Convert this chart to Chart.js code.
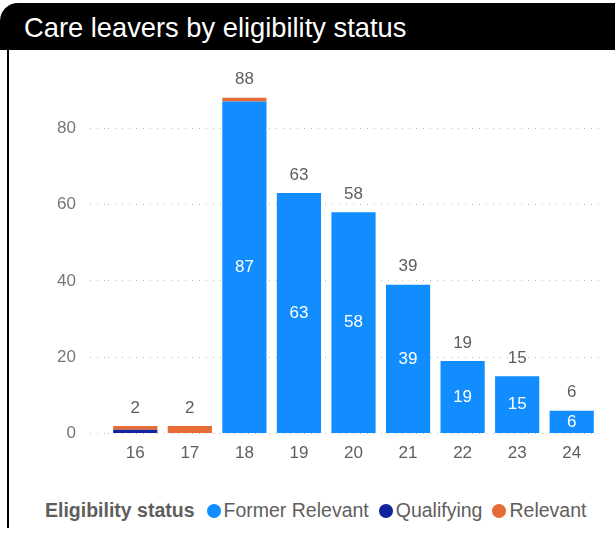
<!DOCTYPE html>
<html>
<head>
<meta charset="utf-8">
<script src="https://cdn.jsdelivr.net/npm/chart.js@4"></script>
<style>
  body { margin: 0; background: #fff; font-family: "Liberation Sans", Arial, sans-serif; }
  #wrap { position: relative; width: 615px; height: 541px; overflow: hidden; }
  #title { position: absolute; left: 0; top: 3px; width: 615px; height: 47px; background: #000;
           border-top-left-radius: 18px; color: #fff; font-size: 27.3px; line-height: 50px;
           padding-left: 24px; box-sizing: border-box; }
  #side { position: absolute; left: 7px; top: 50px; width: 2px; height: 478px; background: #000; }
  #box { position: absolute; left: 0; top: 50px; width: 615px; height: 441px; }
  #legend { position: absolute; left: 45px; top: 499px; display: flex; align-items: center;
            font-size: 19.5px; color: #605E5C; white-space: nowrap; }
  #legend b { margin-right: 12px; }
  .item { display: flex; align-items: center; margin-right: 10px; }
  .dot { width: 14px; height: 14px; border-radius: 50%; margin-right: 3px; }
</style>
</head>
<body>
<div id="wrap">
  <div id="title">Care leavers by eligibility status</div>
  <div id="side"></div>
  <div id="box"><canvas id="chart-1"></canvas></div>
  <div id="legend"><b>Eligibility status</b></div>
</div>
<script>
const ages = ['16', '17', '18', '19', '20', '21', '22', '23', '24'];
const formerRelevant = [0, 0, 87, 63, 58, 39, 19, 15, 6];
const qualifying = [1, 0, 0, 0, 0, 0, 0, 0, 0];
const relevant = [1, 2, 1, 0, 0, 0, 0, 0, 0];
const seriesNames = ['Former Relevant', 'Qualifying', 'Relevant'];
const seriesColors = ['#118DFF', '#12239E', '#E66C37'];
const yTicks = [0, 20, 40, 60, 80];

const totals = ages.map((a, i) => formerRelevant[i] + qualifying[i] + relevant[i]);

// legend as html
const legend = document.getElementById('legend');
seriesNames.forEach((name, i) => {
    const it = document.createElement('span');
    it.className = 'item';
    it.innerHTML = '<span class="dot" style="background:' + seriesColors[i] + '"></span>' + name;
    legend.appendChild(it);
});

const barLabels = {
    id: 'barLabels',
    afterDatasetsDraw(chart) {
        const ctx = chart.ctx;
        ctx.save();
        ctx.textAlign = 'center';
        ctx.textBaseline = 'middle';
        ctx.font = '17px "Liberation Sans", Arial, sans-serif';
        // values inside the big segments
        const meta = chart.getDatasetMeta(0);
        meta.data.forEach((bar, i) => {
            if (formerRelevant[i] >= 5) {
                ctx.fillStyle = '#ffffff';
                ctx.fillText(formerRelevant[i], bar.x, (bar.y + bar.base) / 2);
            }
        });
        // totals above
        const y = chart.scales.y;
        ctx.fillStyle = '#605E5C';
        meta.data.forEach((bar, i) => {
            ctx.fillText(totals[i], bar.x, y.getPixelForValue(totals[i]) - 18);
        });
        ctx.restore();
    }
};

const datasets = [formerRelevant, qualifying, relevant].map((vals, i) => ({
    label: seriesNames[i],
    data: vals,
    backgroundColor: seriesColors[i],
    borderWidth: 0,
    categoryPercentage: 1,
    barPercentage: 0.81
}));

new Chart(document.getElementById('chart-1'), {
    type: 'bar',
    data: { labels: ages, datasets: datasets },
    options: {
        responsive: true,
        maintainAspectRatio: false,
        animation: false,
        layout: { padding: { top: 40, right: 16, bottom: 17, left: 0 } },
        plugins: {
            legend: { display: false },
            tooltip: { enabled: false }
        },
        scales: {
            x: {
                stacked: true,
                grid: { display: false, drawTicks: false },
                border: { display: false },
                ticks: { color: '#605E5C', padding: 10, font: { size: 17, family: '"Liberation Sans", Arial' } }
            },
            y: {
                stacked: true,
                min: 0,
                max: 90,
                afterBuildTicks: s => { s.ticks = yTicks.map(v => ({ value: v })); },
                afterFit: s => { s.width = 108; },
                grid: { color: '#BDBDBD', tickLength: 18, lineWidth: 1, tickColor: '#BDBDBD', tickBorderDash: [1, 6] },
                border: { display: false, dash: [1, 6] },
                ticks: { color: '#777777', padding: 14, font: { size: 17, family: '"Liberation Sans", Arial' } }
            }
        }
    },
    plugins: [barLabels]
});
</script>
</body>
</html>
